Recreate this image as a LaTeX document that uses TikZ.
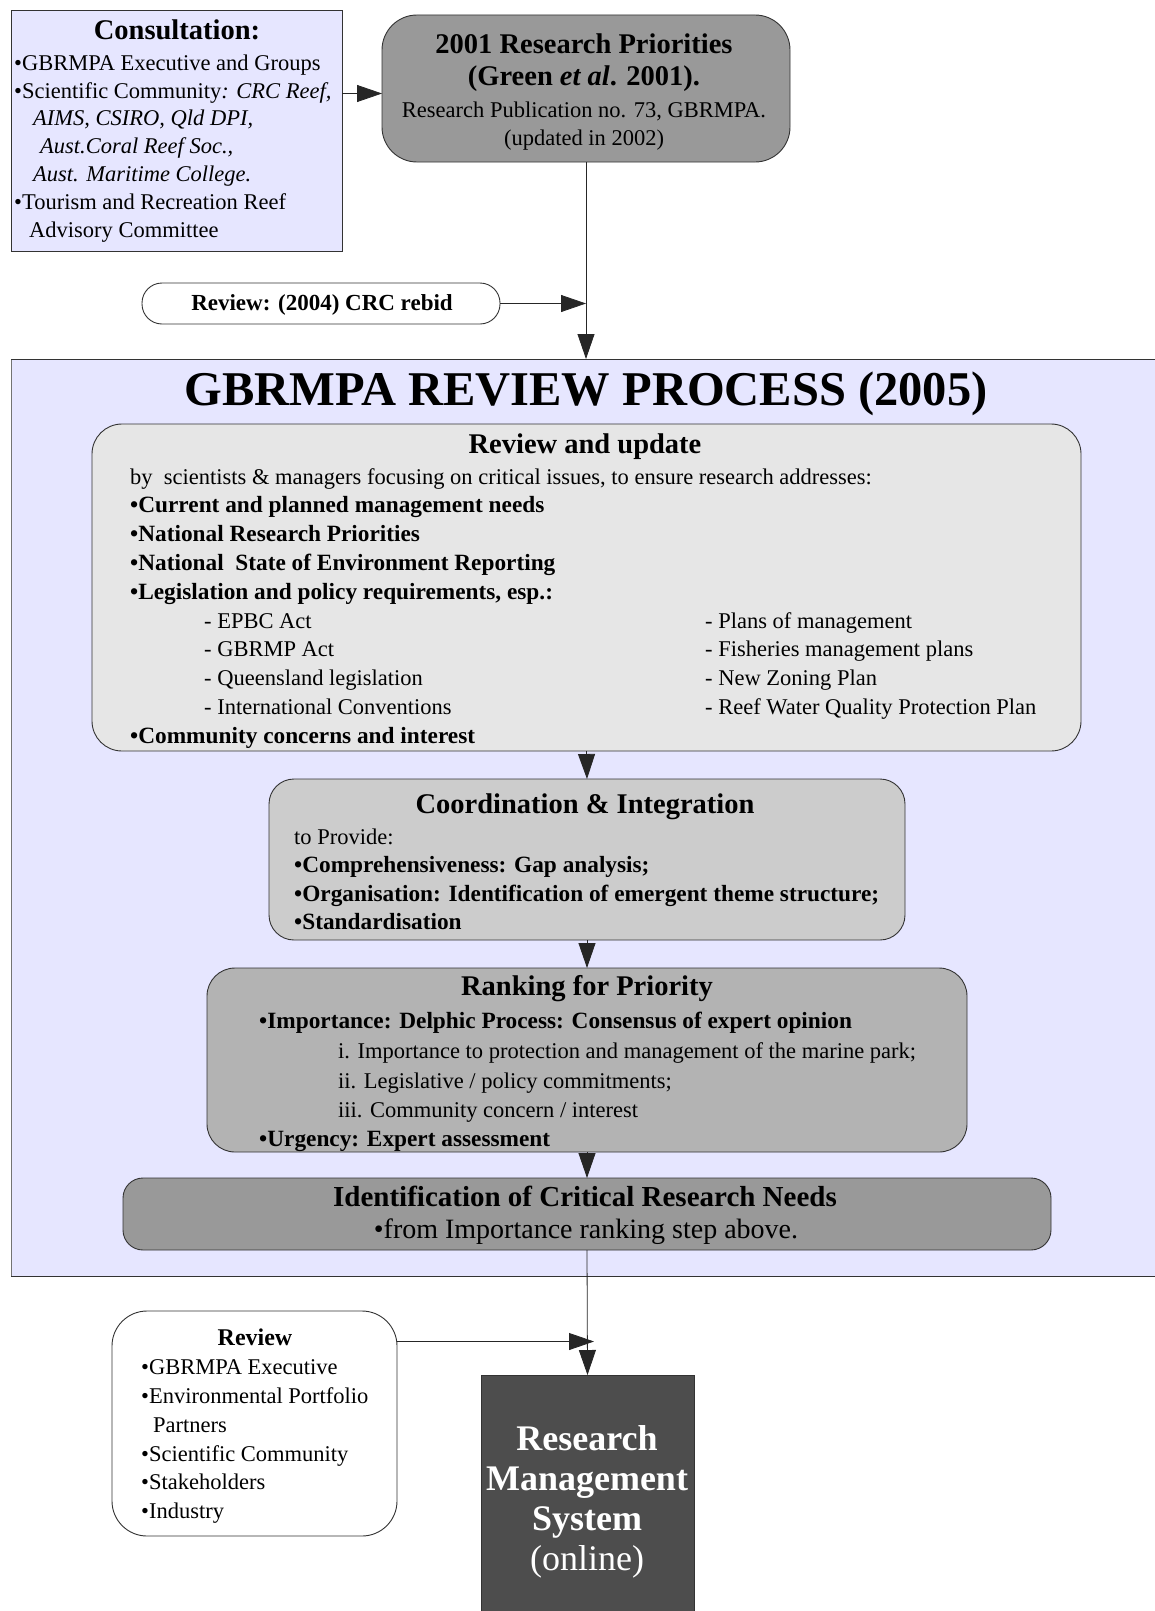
\documentclass[tikz,border=0pt]{standalone}
\usepackage{fontspec}
\setmainfont{Liberation Serif}
\usetikzlibrary{arrows.meta}
\definecolor{lav}{HTML}{E6E6FF}
\definecolor{g1}{HTML}{E6E6E6}
\definecolor{g2}{HTML}{CCCCCC}
\definecolor{g3}{HTML}{B3B3B3}
\definecolor{g4}{HTML}{999999}
\definecolor{g5}{HTML}{4D4D4D}
\definecolor{edge}{HTML}{333333}
\begin{document}
\begin{tikzpicture}[x=1pt,y=-1pt,
  box/.style={draw=edge, line width=0.9pt, inner sep=0pt, outer sep=0pt},
  arr/.style={-{Triangle[length=25pt,width=17pt]}, line width=0.8pt, draw=black!85},
  tl/.style={anchor=base west, inner sep=0pt},
  tc/.style={anchor=base, inner sep=0pt},
  fb/.style={font=\fontsize{22.5}{27}\selectfont},
  fbb/.style={font=\fontsize{23.3}{27}\selectfont\bfseries},
  ft/.style={font=\fontsize{28.5}{34}\selectfont\bfseries},
]
\useasboundingbox (0,0) rectangle (1155,1611);

% big review process area
\fill[lav] (11,359) rectangle (1155,1276);
\draw[edge, line width=1pt] (1155,359) -- (11,359) -- (11,1276) -- (1155,1276);
\draw[black!55, line width=1.5pt] (11.5,359.5) -- (11.5,1275.5);

% boxes
\node[box, fill=lav, minimum width=331pt, minimum height=241pt] (cons) at (176.5,130.5) {};
\node[box, fill=g4, rounded corners=35pt, minimum width=408pt, minimum height=147pt] (prio) at (586,88.5) {};
\node[box, fill=white, rounded corners=20pt, minimum width=358pt, minimum height=41pt] (crc) at (321,303.5) {};
\node[box, fill=g1, rounded corners=30pt, minimum width=989pt, minimum height=327pt] (rev) at (586.5,587.5) {};
\node[box, fill=g2, rounded corners=25pt, minimum width=636pt, minimum height=161pt] (coord) at (587,859.5) {};
\node[box, fill=g3, rounded corners=28pt, minimum width=760pt, minimum height=184pt] (rank) at (587,1060) {};
\node[box, fill=g4, rounded corners=20pt, minimum width=928pt, minimum height=72pt] (ident) at (587,1214) {};
\node[box, fill=white, rounded corners=35pt, minimum width=285pt, minimum height=225pt] (revb) at (254.5,1423.5) {};
\node[box, fill=g5, minimum width=213pt, minimum height=236pt] (rms) at (587.5,1493) {};

% connectors
\coordinate (bigtop) at (586,359);
\coordinate (rvend) at (594,1341.5);
\draw[arr] (cons.east |- 0,93.5) -- (prio.west |- 0,93.5);
\draw[arr] (prio.south) -- (bigtop);
\draw[arr] (crc.east) -- (crc.east -| bigtop);
\draw[arr] (rev.south) -- (coord.north);
\draw[arr] (coord.south) -- (rank.north);
\draw[arr] (rank.south) -- (ident.north);
\draw[arr] (ident.south) -- (rms.north);
\draw[arr] (revb.east |- rvend) -- (rvend);

% Consultation
\node[tc, ft] (c0) at (177,40) {Consultation:};
\node[tl, fb] (c1) at (14,70.5) {•GBRMPA Executive and Groups};
\node[tl, fb] (c2) at (14,98) {•Scientific Community\textit{: CRC Reef,}};
\node[tl, fb] (c3) at (33,125.5) {\textit{AIMS, CSIRO, Qld DPI,}};
\node[tl, fb] (c4) at (40,153.5) {\textit{Aust.Coral Reef Soc.,}};
\node[tl, fb] (c5) at (33,181.5) {\textit{Aust. Maritime College.}};
\node[tl, fb] (c6) at (14,209.5) {•Tourism and Recreation Reef};
\node[tl, fb] (c7) at (29,237.5) {Advisory Committee};

% 2001 priorities
\node[tc, ft] (p1) at (584,53) {2001 Research Priorities};
\node[tc, ft] (p2) at (584,85) {(Green \textit{et al}. 2001).};
\node[tc, fb] (p3) at (584,117) {Research Publication no. 73, GBRMPA.};
\node[tc, fb] (p4) at (584,145) {(updated in 2002)};

% CRC
\node[tc, font=\fontsize{23}{27}\selectfont\bfseries] (crct) at (322,310) {Review: (2004) CRC rebid};

% big title
\node[tc, font=\fontsize{48.5}{56}\selectfont\bfseries] (bigt) at (586,405) {GBRMPA REVIEW PROCESS (2005)};

% Review and update
\node[tc, ft] (r0) at (585,453) {Review and update};
\node[tl, fb] (r1) at (130,484) {by\ \ scientists \& managers focusing on critical issues, to ensure research addresses:};
\node[tl, fbb] (r2) at (130,512.8) {•Current and planned management needs};
\node[tl, fbb] (r3) at (130,541.6) {•National Research Priorities};
\node[tl, fbb] (r4) at (130,570.4) {•National\ \ State of Environment Reporting};
\node[tl, fbb] (r5) at (130,599.2) {•Legislation and policy requirements, esp.:};
\node[tl, fb] (r6a) at (204,628) {- EPBC Act};
\node[tl, fb] (r7a) at (204,656.8) {- GBRMP Act};
\node[tl, fb] (r8a) at (204,685.6) {- Queensland legislation};
\node[tl, fb] (r9a) at (204,714.4) {- International Conventions};
\node[tl, fb] (r6b) at (705,628) {- Plans of management};
\node[tl, fb] (r7b) at (705,656.8) {- Fisheries management plans};
\node[tl, fb] (r8b) at (705,685.6) {- New Zoning Plan};
\node[tl, fb] (r9b) at (705,714.4) {- Reef Water Quality Protection Plan};
\node[tl, fbb] (r10) at (130,743.2) {•Community concerns and interest};

% Coordination
\node[tc, ft] (k0) at (585,813) {Coordination \& Integration};
\node[tl, fb] (k1) at (294,844) {to Provide:};
\node[tl, fbb] (k2) at (294,872.5) {•Comprehensiveness: Gap analysis;};
\node[tl, fbb] (k3) at (294,901) {•Organisation: Identification of emergent theme structure;};
\node[tl, fbb] (k4) at (294,929.5) {•Standardisation};

% Ranking
\node[tc, ft] (q0) at (587,995.5) {Ranking for Priority};
\node[tl, fbb] (q1) at (259,1028) {•Importance: Delphic Process: Consensus of expert opinion};
\node[tl, fb] (q2) at (338,1058.5) {i. Importance to protection and management of the marine park;};
\node[tl, fb] (q3) at (338,1088) {ii. Legislative / policy commitments;};
\node[tl, fb] (q4) at (338,1117) {iii. Community concern / interest};
\node[tl, fbb] (q5) at (259,1146.5) {•Urgency: Expert assessment};

% Identification
\node[tc, font=\fontsize{29}{34}\selectfont\bfseries] (i0) at (585,1206) {Identification of Critical Research Needs};
\node[tc, font=\fontsize{28}{33}\selectfont] (i1) at (586,1238) {•from Importance ranking step above.};

% Review (bottom)
\node[tc, font=\fontsize{24}{28}\selectfont\bfseries] (b0) at (255,1345) {Review};
\node[tl, fb] (b1) at (141,1374) {•GBRMPA Executive};
\node[tl, fb] (b2) at (141,1403) {•Environmental Portfolio};
\node[tl, fb] (b3) at (153,1432) {Partners};
\node[tl, fb] (b4) at (141,1461) {•Scientific Community};
\node[tl, fb] (b5) at (141,1489.5) {•Stakeholders};
\node[tl, fb] (b6) at (141,1518) {•Industry};

% RMS
\node[tc, text=white, font=\fontsize{36}{40}\selectfont\bfseries] (m1) at (587,1450) {Research};
\node[tc, text=white, font=\fontsize{36}{40}\selectfont\bfseries] (m2) at (587,1490.5) {Management};
\node[tc, text=white, font=\fontsize{36}{40}\selectfont\bfseries] (m3) at (587,1530.5) {System};
\node[tc, text=white, font=\fontsize{36}{40}\selectfont] (m4) at (587,1570) {(online)};
\end{tikzpicture}
\end{document}
